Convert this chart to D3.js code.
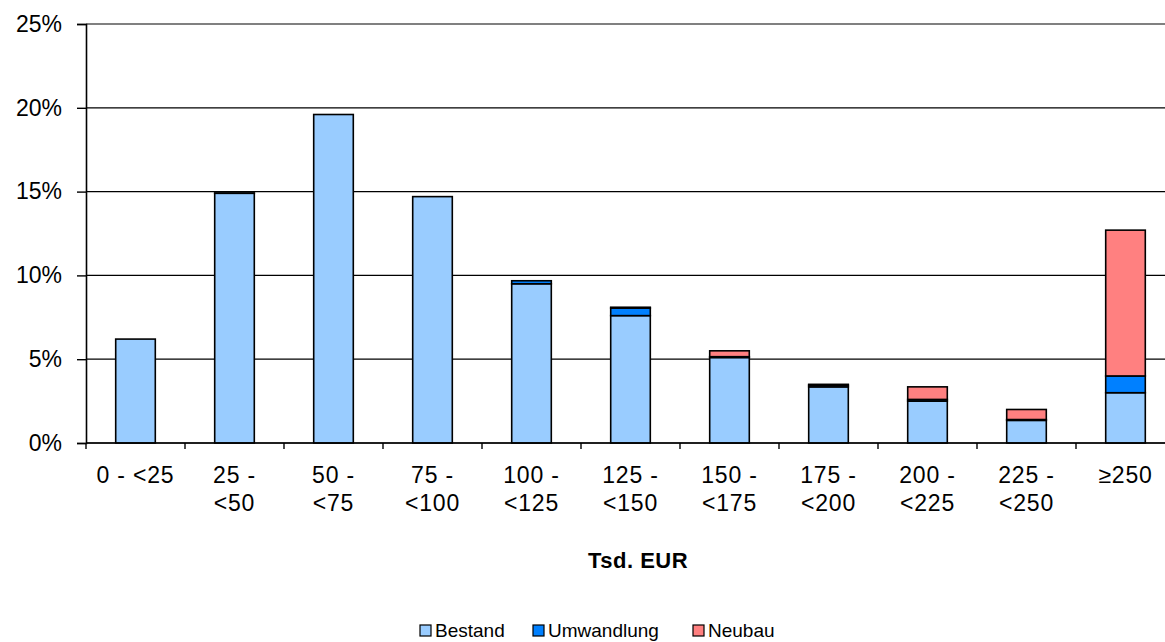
<!DOCTYPE html>
<html>
<head>
<meta charset="utf-8">
<script src="https://cdn.jsdelivr.net/npm/d3@7"></script>
<style>
  body { margin: 0; background: #fff; }
  text { font-family: "Liberation Sans", Arial, sans-serif; fill: #000; }
</style>
</head>
<body>
<div id="chart"></div>
<script>
var categories = ["0 - <25", "25 - <50", "50 - <75", "75 - <100", "100 - <125", "125 - <150",
                  "150 - <175", "175 - <200", "200 - <225", "225 - <250", "≥250"];
var labelLines = [["0 - <25"], ["25 -", "<50"], ["50 -", "<75"], ["75 -", "<100"], ["100 -", "<125"],
                  ["125 -", "<150"], ["150 -", "<175"], ["175 -", "<200"], ["200 -", "<225"], ["225 -", "<250"], ["≥250"]];
var bestand    = [6.2, 14.9, 19.6, 14.7, 9.5, 7.6, 5.1, 3.35, 2.5, 1.35, 3.0];
var umwandlung = [0, 0.02, 0, 0, 0.18, 0.45, 0.05, 0.1, 0.1, 0.05, 1.0];
var neubau     = [0, 0, 0, 0, 0, 0.05, 0.35, 0.05, 0.75, 0.6, 8.7];
var seriesNames = ["Bestand", "Umwandlung", "Neubau"];
var seriesColors = ["#99CCFF", "#0080FF", "#FF8080"];
var yTicks = [0, 5, 10, 15, 20, 25];

var svgWidth = 1165, svgHeight = 642;
var margin = {top: 24, left: 86, right: -10, bottom: 199};
var width = svgWidth - margin.left - margin.right;
var height = svgHeight - margin.top - margin.bottom;

var svg = d3.select("#chart").append("svg").attr("width", svgWidth).attr("height", svgHeight);
var chartGroup = svg.append("g").attr("transform", `translate(${margin.left},${margin.top})`);

var rows = categories.map(function(c, i) {
    return {cat: c, Bestand: bestand[i], Umwandlung: umwandlung[i], Neubau: neubau[i]};
});
var stacked = d3.stack().keys(seriesNames)(rows);

var xScale = d3.scaleBand().domain(categories).range([0, width]).paddingInner(0.6).paddingOuter(0.3);
var xEdge = d3.scaleLinear().domain([0, categories.length]).range([0, width]);
var yScale = d3.scaleLinear().domain([0, 25]).range([height, 0]);

// gridlines
chartGroup.selectAll(".grid").data(yTicks).enter().append("line")
    .attr("x1", 0).attr("x2", width)
    .attr("y1", d => yScale(d)).attr("y2", d => yScale(d))
    .attr("stroke", d => d === 25 ? "#808080" : "#000")
    .attr("stroke-width", d => d === 25 ? 2 : 1.2);

// bars
chartGroup.selectAll(".series").data(stacked).enter().append("g")
    .attr("fill", (d, i) => seriesColors[i])
    .selectAll("rect").data(d => d).enter().append("rect")
    .attr("x", d => xScale(d.data.cat))
    .attr("width", xScale.bandwidth())
    .attr("y", d => yScale(d[1]))
    .attr("height", d => yScale(d[0]) - yScale(d[1]))
    .attr("stroke", "#000").attr("stroke-width", 1.6);

// y axis
var leftAxis = d3.axisLeft(yScale).tickValues(yTicks).tickFormat(d => d + "%").tickSize(9).tickPadding(15);
var yAxis = chartGroup.append("g").call(leftAxis);
yAxis.select(".domain").attr("stroke", "#000").attr("stroke-width", 1.6);
yAxis.selectAll(".tick line").attr("stroke", "#000").attr("stroke-width", 1.4);
yAxis.selectAll(".tick text").style("font-size", "23px").style("font-family", "Liberation Sans, Arial, sans-serif");

// x axis line and ticks at category edges
chartGroup.append("line").attr("x1", 0).attr("x2", width).attr("y1", height).attr("y2", height)
    .attr("stroke", "#000").attr("stroke-width", 1.6);
chartGroup.selectAll(".xtick").data(d3.range(categories.length + 1)).enter().append("line")
    .attr("x1", d => xEdge(d)).attr("x2", d => xEdge(d))
    .attr("y1", height).attr("y2", height + 6)
    .attr("stroke", "#000").attr("stroke-width", 1.4);

// x labels
var xlabels = chartGroup.selectAll(".xlabel").data(categories).enter().append("text")
    .attr("text-anchor", "middle")
    .attr("transform", d => `translate(${xScale(d) + xScale.bandwidth() / 2},${height + 40})`)
    .style("font-size", "23px").style("letter-spacing", "0.8px");
xlabels.each(function(d, i) {
    var t = d3.select(this);
    labelLines[i].forEach(function(line, j) {
        t.append("tspan").attr("x", 0).attr("y", j * 28).text(line);
    });
});

// axis title
svg.append("text").attr("x", 638).attr("y", 568).attr("text-anchor", "middle")
    .style("font-size", "22px").style("font-weight", "bold").style("letter-spacing", "0.5px")
    .text("Tsd. EUR");

// legend
var legendX = [420, 533, 693];
var legend = svg.append("g");
seriesNames.forEach(function(name, i) {
    legend.append("rect").attr("x", legendX[i]).attr("y", 625).attr("width", 11).attr("height", 11)
        .attr("fill", seriesColors[i]).attr("stroke", "#000").attr("stroke-width", 1.2);
    legend.append("text").attr("x", legendX[i] + 15).attr("y", 637)
        .style("font-size", "19px").text(name);
});
</script>
</body>
</html>
